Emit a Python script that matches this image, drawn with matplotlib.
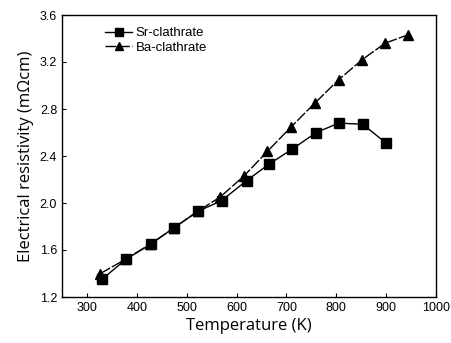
import matplotlib
matplotlib.use("Agg")
import matplotlib.pyplot as plt

plt.rcParams['font.family'] = ['Liberation Sans', 'DejaVu Sans']

# data
sr_T = [330, 378, 428, 475, 523, 570, 620, 665, 712, 760, 805, 853, 900]
sr_rho = [1.35, 1.52, 1.65, 1.79, 1.93, 2.02, 2.19, 2.33, 2.46, 2.60, 2.68, 2.67, 2.51]
ba_T = [327, 377, 427, 475, 522, 567, 615, 662, 710, 757, 805, 852, 898, 943]
ba_rho = [1.40, 1.52, 1.65, 1.79, 1.93, 2.05, 2.23, 2.44, 2.65, 2.85, 3.05, 3.22, 3.36, 3.43]

xticks = [300, 400, 500, 600, 700, 800, 900, 1000]
yticks = [1.2, 1.6, 2.0, 2.4, 2.8, 3.2, 3.6]

fig = plt.figure(figsize=(4.51, 3.43), dpi=100)
ax = fig.add_axes([62/451, 1 - 297/343, (436-62)/451, (297-15)/343])

ax.plot(sr_T, sr_rho, '-', color='black', lw=1.0, marker='s', ms=6.5, label='Sr-clathrate')
ax.plot(ba_T, ba_rho, color='black', lw=1.0, ls=(0, (8, 1.5)), marker='^', ms=7.5, label='Ba-clathrate')

ax.set_xlim(250, 1000)
ax.set_ylim(1.2, 3.6)
ax.set_xticks(xticks)
ax.set_yticks(yticks)
ax.set_yticklabels([f"{v:.1f}" for v in yticks])
ax.tick_params(direction='in', length=3, width=0.8, labelsize=9, colors='black')
for s in ax.spines.values():
    s.set_linewidth(1.0)

ax.set_xlabel('Temperature (K)', fontsize=12, family=['Open Sans', 'DejaVu Sans'], labelpad=3)
ax.set_ylabel('Electrical resistivity (mΩcm)', fontsize=12, family=['Open Sans', 'DejaVu Sans'], labelpad=4)

ax.legend(loc='upper left', bbox_to_anchor=(0.095, 0.985), frameon=False, fontsize=9.5,
          handlelength=2.0, handletextpad=0.3, labelspacing=0.15, borderaxespad=0.2,
          markerscale=0.8)

fig.savefig('out.png', dpi=100)
